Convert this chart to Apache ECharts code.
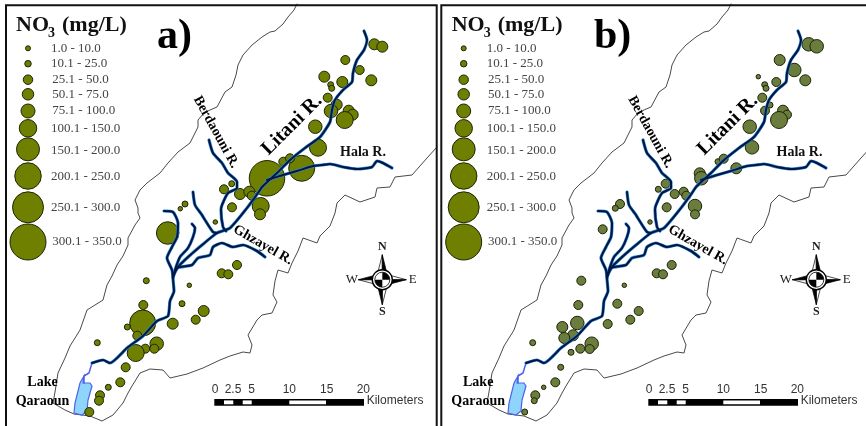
<!DOCTYPE html>
<html><head><meta charset="utf-8">
<style>html,body{margin:0;padding:0;background:#fff}#c{width:866px;height:426px}</style>
<script src="https://cdn.jsdelivr.net/npm/echarts@6/dist/echarts.min.js"></script>
</head><body><div id="c"></div>
<script>
// NO3 classes (upper bound of class, label)
const classLabels = ['1.0 - 10.0','10.1 - 25.0','25.1 - 50.0','50.1 - 75.0','75.1 - 100.0','100.1 - 150.0','150.1 - 200.0','200.1 - 250.0','250.1 - 300.0','300.1 - 350.0'];
const classUpper = [10,25,50,75,100,150,200,250,300,350];
// sampling points: map x, map y, NO3 mg/L (estimated within the class)
const pointsA = [[374.3,44.3,62],[382.3,46.7,62],[345.3,60,38],[359.7,70,38],[324.3,76.7,62],[342.3,82,62],[371.3,80.3,62],[330.7,84.7,18],[331.7,88.3,18],[327.7,97.7,38],[336.7,104.7,62],[331,111,88],[348.7,110.7,62],[352.7,114.7,62],[344.7,120,125],[315.3,126.7,88],[318,147.7,125],[301.7,168.3,225],[267,178.3,325],[283.3,161.7,38],[290,158.3,38],[231.7,183.7,18],[224,189.3,38],[240,194,62],[249.3,191.7,62],[251.7,195.7,38],[232,207.3,38],[260.7,206,125],[260,214.3,62],[185,204,18],[180.3,208.7,6],[215.3,222,6],[167.7,233,175],[221.7,273.3,38],[228.3,274.3,38],[237,265,38],[146.3,280.7,18],[189.3,285.3,6],[143.3,305,38],[182,303.7,18],[203.7,311,62],[195.7,319.7,38],[172.7,323.7,62],[142.7,323,225],[127.3,327,18],[137.3,335.7,38],[97.3,342.7,18],[156.7,343.7,88],[145.3,348.7,38],[154.3,348.7,38],[135.7,353,125],[125.7,367.3,38],[120.3,382.3,38],[108.3,387.3,18],[100,395.3,38],[99,400.7,38],[89.3,412,38]];
const pointsB = [[374.7,44.3,88],[382.7,46.3,88],[345.7,60,62],[360.3,70,88],[324.3,76.7,6],[342.3,82,38],[371.3,80.3,62],[330.7,84.7,18],[332,88.3,18],[328.3,97.7,38],[336,105,18],[331,110.7,38],[349,110.7,62],[353,114.7,38],[345,120,125],[315.7,126.7,88],[318,147.3,88],[302.3,168.3,62],[265.7,173.3,62],[267.3,178.3,88],[284,161.7,18],[289.7,158.7,38],[231.7,183.7,38],[224.3,189.3,18],[240.7,194,38],[249.7,191.7,38],[252.3,195.7,38],[232.7,207.3,38],[261,206,88],[261,214.3,38],[186,204,38],[181.3,208.3,18],[216,222,6],[168.7,229.3,38],[222.7,273.3,38],[229,274.3,38],[237.7,265,38],[147.3,280.7,38],[190.3,285.3,6],[144.3,305,38],[183.3,303.7,38],[204.7,311,38],[196.3,319.7,38],[173.7,324,38],[143.3,323,88],[128.3,327,62],[139,335.3,62],[130.3,338,62],[98.7,342.7,18],[157.7,343.7,88],[146.3,348.7,38],[155.7,349,38],[137,352.3,18],[126.7,367.3,18],[121.3,382.3,38],[109.7,387.3,6],[101.3,395.3,38],[100.3,400.7,18],[90.7,412,18]];
const legendValues = [6,18,38,62,88,125,175,225,275,325];
const legendRows = [48.3,63.7,79.7,94.3,111,128.3,149.3,176,207.3,242];
// map geometry
const basin = [[297,4],[294,10],[288,17],[283,24],[275,31],[270,32],[262,37],[252,45],[243,55],[238,65],[236,75],[232,87],[225,92],[217,107],[210,110],[204,113],[198,120],[198,127],[193,137],[190,143],[178,152],[168,163],[160,173],[147,183],[140,190],[135,200],[138,208],[138,213],[140,218],[135,225],[128,238],[128,245],[123,256],[117,265],[112,276],[107,285],[103,300],[87,310],[80,330],[70,346],[65,358],[58,373],[55,392],[53,403],[65,410],[74,414],[90,416],[102,421],[113,415],[123,403],[128,393],[132,386],[140,373],[150,369],[163,370],[170,378],[187,374],[203,368],[220,360],[230,356],[243,352],[250,353],[252,345],[248,335],[257,320],[262,315],[272,313],[277,302],[273,295],[275,281],[278,270],[288,273],[292,263],[298,251],[303,238],[317,243],[320,236],[330,226],[335,213],[337,203],[345,195],[360,202],[375,197],[377,188],[390,187],[395,177],[412,175],[427,158],[437,147]];
const litani = [[364,31],[367,40],[364,50],[357,60],[353,73],[352,82],[343,90],[335,100],[332,110],[330,122],[320,137],[305,148],[290,160],[277,173],[262,187],[258,193],[247,208],[230,228],[217,233],[202,245],[187,258],[178,267],[173,278],[174,291],[170,301],[168,316],[157,321],[143,336],[127,348],[110,363],[103,360],[92,363]];
const inlet = [[92,363],[89,373],[84,376],[84,383]];
const hala = [[267,180],[283,175],[297,171],[313,166],[322,165],[330,164],[343,167],[357,169],[372,167],[377,161],[383,163],[392,168]];
const berdaouni = [[209,140],[213,153],[222,163],[228,173],[237,182],[237,188],[228,193],[222,205],[221,210],[223,227],[226,231]];
const tribA = [[193,192],[195,205],[202,215],[205,220],[213,232],[217,233]];
const tribB = [[164,211],[173,212],[178,223],[177,237],[172,247],[167,258],[172,270],[173,278]];
const tribC = [[192,224],[195,228],[193,237],[188,248],[180,257],[176,267],[173,277]];
const ghzayel = [[265,257],[257,251],[243,245],[233,247],[222,243],[213,247],[210,255],[198,258],[192,265],[177,268],[173,277]];
const lake = [[84,376],[83,383],[90,383],[92,386],[88,400],[87,411],[82,415],[74,413],[75,403],[80,383]];
const scaleTicks = [['0',215],['2.5',233],['5',251.7],['10',289.3],['15',326.7],['20',363.3]];
const scaleWhite = [[224,233.3],[242.7,251.7],[289.3,326]];

const SERIF='"Liberation Serif","Times New Roman",serif', SANS='"Liberation Sans",Arial,sans-serif';
const legendSizes=[5,6.5,9.5,11.5,14,17.5,23,26.5,31,36];
const sizeFor=v=>legendSizes[classUpper.findIndex(u=>v<=u)];
const OLIVE='#6f8000', OLIVE_B='#6a7d3c', EDGE='#1c2408';

function texts(dx, dl){ // label list for a panel: [text,x,y,font,fill,rotateDeg,align]
  const b=s=>`bold ${s}px ${SERIF}`;
  const t=[
    ['NO',16+dl,25,b(22),'#111',0,'left'],['3',48+dl,33,b(14),'#111',0,'left'],['(mg/L)',62+dl,25,b(22),'#111',0,'left'],
    [dx?'b)':'a)',(dx?160:157),37,b(42),'#000',0,'left'],
    ['Berdaouni R.',216+dl*.3,132,b(14),'#000',-61,'center'],
    ['Litani R.',292+dl,125,b(20),'#000',45,'center'],
    ['Hala R.',340+dl*1.5,152,b(14),'#111',0,'left'],
    ['Ghzayel R.',263+dl*.5,245,b(14),'#000',-30,'center'],
    ['Lake',42.5+dl,382,b(14),'#000',0,'center'],
    ['Qaraoun',42.5+dl,401,b(14),'#000',0,'center'],
    ['N',382.3,247.3,b(12),'#222',0,'center'],['S',382.3,311.7,b(12),'#222',0,'center'],
    ['W',352,279.5,`13px ${SERIF}`,'#222',0,'center'],['E',412.7,279.7,`13px ${SERIF}`,'#222',0,'center'],
    ['Kilometers',366.7,401,`12px ${SANS}`,'#333',0,'left']
  ];
  scaleTicks.forEach(s=>t.push([s[0],s[1],390,`12px ${SANS}`,'#333',0,'center']));
  classLabels.forEach((c,i)=>t.push([c,(i>=2&&i<=4||i==9?52.3:51)+dl,legendRows[i]+(i==6?1.5:i==7?1:0),`13px ${SERIF}`,'#444',0,'left']));
  return t;
}
const line=(g,data,color,width,z,smooth)=>({type:'line',xAxisIndex:g,yAxisIndex:g,data,symbol:'none',silent:true,animation:false,z,smooth:smooth||false,
  lineStyle:{color,width,join:'round',cap:'round'}});
function panel(g,points,fill,dl){
  const dx=g;
  const rivers=[litani,hala,berdaouni,tribA,tribB,tribC,ghzayel];
  const s=[];
  s.push(line(g,basin,'#4a4a4a',1,2));
  // lake
  s.push({type:'custom',xAxisIndex:g,yAxisIndex:g,z:3,silent:true,animation:false,data:[0],
    renderItem:(p,api)=>({type:'polygon',shape:{points:lake.map(q=>api.coord(q))},style:{fill:'#8fd4fb',stroke:'#4a63ea',lineWidth:1.2}})});
  s.push(line(g,inlet,'#4a63ea',1.5,3));
  // sampling points
  s.push({type:'scatter',xAxisIndex:g,yAxisIndex:g,z:4,silent:true,animation:false,data:points,
    symbolSize:d=>sizeFor(d[2])-.5,itemStyle:{color:fill,borderColor:EDGE,borderWidth:1,opacity:1}});
  // rivers
  rivers.forEach(r=>s.push(line(g,r,'#2c86d6',3.2,5,0.2)));
  rivers.forEach(r=>s.push(line(g,r,'#04163f',2,6,0.2)));
  // legend
  s.push({type:'scatter',xAxisIndex:g,yAxisIndex:g,z:4,silent:true,animation:false,
    data:legendValues.map((v,i)=>[28+dl,legendRows[i],v]),
    symbolSize:d=>sizeFor(d[2]),
    itemStyle:{color:OLIVE,borderColor:EDGE,borderWidth:1,opacity:1}});
  // scale bar
  s.push({type:'custom',xAxisIndex:g,yAxisIndex:g,z:7,silent:true,animation:false,data:[0],
    renderItem:(p,api)=>{
      const rect=(x0,x1,y0,y1,f)=>{const a=api.coord([x0,y0]),b=api.coord([x1,y1]);return {type:'rect',shape:{x:a[0],y:a[1],width:b[0]-a[0],height:b[1]-a[1]},style:{fill:f}}};
      return {type:'group',children:[rect(214.3,364,399,405.7,'#000')].concat(scaleWhite.map(w=>rect(w[0],w[1],400.4,404.3,'#fff')))};
    }});
  // compass
  s.push({type:'custom',xAxisIndex:g,yAxisIndex:g,z:7,silent:true,animation:false,data:[[382.3,279.7]],
    renderItem:(p,api)=>{
      const c=api.coord([api.value(0),api.value(1)]);
      const kids=[];
      const rot=[[0,-1],[1,0],[0,1],[-1,0]];
      rot.forEach(d=>{
        const L=d[0]?24:25, w=4.5, pn=[-d[1],d[0]];
        const tip=[c[0]+d[0]*L,c[1]+d[1]*L], base=[c[0]+d[0]*7,c[1]+d[1]*7];
        const l=[base[0]-pn[0]*w,base[1]-pn[1]*w], r=[base[0]+pn[0]*w,base[1]+pn[1]*w];
        kids.push({type:'polygon',shape:{points:[tip,base,l]},style:{fill:'#fff',stroke:'#000',lineWidth:.7}});
        kids.push({type:'polygon',shape:{points:[tip,base,r]},style:{fill:'#000',stroke:'#000',lineWidth:.7}});
      });
      kids.push({type:'circle',shape:{cx:c[0],cy:c[1],r:10},style:{fill:'#fff',stroke:'#000',lineWidth:1.4}});
      kids.push({type:'circle',shape:{cx:c[0],cy:c[1],r:7.5},style:{fill:'#fff',stroke:'#000',lineWidth:.8}});
      const R=7.5, P=Math.PI;
      kids.push({type:'sector',shape:{cx:c[0],cy:c[1],r:R,r0:0,startAngle:-P/2,endAngle:0},style:{fill:'#000'}});
      kids.push({type:'sector',shape:{cx:c[0],cy:c[1],r:R,r0:0,startAngle:P/2,endAngle:P},style:{fill:'#000'}});
      return {type:'group',children:kids};
    }});
  // text
  const T=texts(dx,dl);
  s.push({type:'custom',xAxisIndex:g,yAxisIndex:g,z:8,silent:true,animation:false,data:T.map((t,i)=>[t[1],t[2],i]),
    renderItem:(p,api)=>{
      const t=T[p.dataIndex], c=api.coord([t[1],t[2]]);
      return {type:'text',x:c[0],y:c[1],rotation:t[5]*Math.PI/180,
        style:{text:t[0],font:t[3],fill:t[4],align:t[6],verticalAlign:'middle'}};
    }});
  return s;
}
const xAxis=[{type:'value',gridIndex:0,min:0,max:440,show:false},{type:'value',gridIndex:1,min:0,max:432,show:false}];
const yAxis=[0,1].map(i=>({type:'value',gridIndex:i,min:0,max:426,inverse:true,show:false}));
const chart=echarts.init(document.getElementById('c'),null,{renderer:'canvas'});
const frame=(pts,w)=>({type:'polyline',shape:{points:pts},style:{stroke:'#111',lineWidth:w,fill:null},z:20});
chart.setOption({
  backgroundColor:'#fff',animation:false,
  grid:[{left:0,top:0,width:440,height:426},{left:434,top:0,width:432,height:426}],
  xAxis,yAxis,
  series:panel(0,pointsA,OLIVE,0).concat(panel(1,pointsB,OLIVE_B,1.7)),
  graphic:[
    frame([[6,426],[6,5.3],[436.7,5.3],[436.7,426]],2),
    frame([[441.3,426],[441.3,5.3],[866,5.3]],2)
  ]
});
</script></body></html>
